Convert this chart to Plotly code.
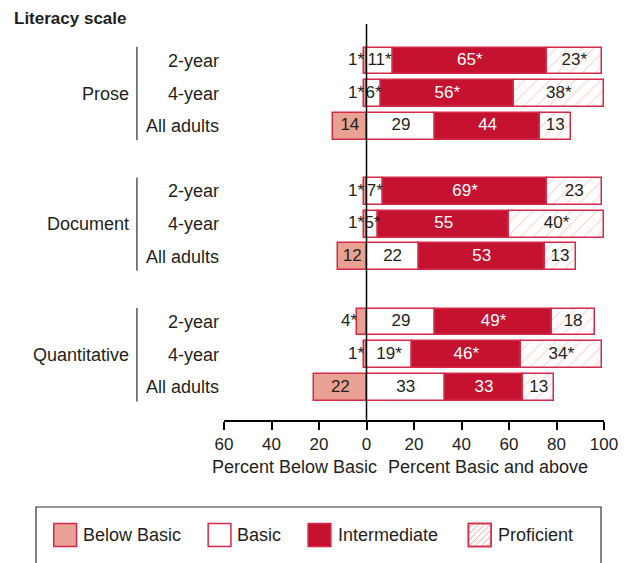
import plotly.graph_objects as go

# ---------------- data ----------------
scales = ["Prose", "Document", "Quantitative"]
groups = ["2-year", "4-year", "All adults"]
row_pos = [0, 1, 2, 4, 5, 6, 8, 9, 10]

below_basic = [1, 1, 14, 1, 1, 12, 4, 1, 22]
below_basic_lbl = ["1*", "1*", "14", "1*", "1*", "12", "4*", "1*", "22"]
basic = [11, 6, 29, 7, 5, 22, 29, 19, 33]
basic_lbl = ["11*", "6*", "29", "7*", "5*", "22", "29", "19*", "33"]
intermediate = [65, 56, 44, 69, 55, 53, 49, 46, 33]
intermediate_lbl = ["65*", "56*", "44", "69*", "55", "53", "49*", "46*", "33"]
proficient = [23, 38, 13, 23, 40, 13, 18, 34, 13]
proficient_lbl = ["23*", "38*", "13", "23", "40*", "13", "18", "34*", "13"]

tick_vals = [-60, -40, -20, 0, 20, 40, 60, 80, 100]
tick_text = ["60", "40", "20", "0", "20", "40", "60", "80", "100"]
legend_names = ["Below Basic", "Basic", "Intermediate", "Proficient"]

# ---------------- style ----------------
OFF = 8  # page body margin offset
W, H = 630 - OFF, 563 - OFF
L, R, T, B = 224 - OFF, 22, 24 - OFF, 143
PW, PH = W - L - R, H - T - B
RED = "#C41230"
EDGE = "#D42A48"
SALMON = "#E8A193"
HATCH = "#F0A395"
DARK = "#231F20"
FONT = "Liberation Sans, Arial, sans-serif"
NUMFONT = "Liberation Sans, Arial, sans-serif"


def fx(px):  # reference-window pixel -> paper
    return (px - OFF - L) / PW


def fy(py):
    return (T + PH - (py - OFF)) / PH


fig = go.Figure()
bw = 0.82
fig.add_trace(go.Bar(y=row_pos, x=[-v for v in below_basic], orientation="h", width=bw,
                     marker=dict(color=SALMON, line=dict(color=EDGE, width=1.5)), showlegend=False))
fig.add_trace(go.Bar(y=row_pos, x=basic, orientation="h", width=bw,
                     marker=dict(color="white", line=dict(color=EDGE, width=1.5)), showlegend=False))
fig.add_trace(go.Bar(y=row_pos, x=intermediate, orientation="h", width=bw,
                     marker=dict(color=RED, line=dict(color=EDGE, width=1.5)), showlegend=False))
fig.add_trace(go.Bar(y=row_pos, x=proficient, orientation="h", width=bw,
                     marker=dict(color="white", line=dict(color=EDGE, width=1.5),
                                 pattern=dict(shape="/", fgcolor=HATCH, bgcolor="white",
                                              size=9, solidity=0.12)),
                     showlegend=False))

# data labels
bb_in_x, bb_in_y, bb_in_t = [], [], []
bb_out_x, bb_out_y, bb_out_t = [], [], []
for v, t, y in zip(below_basic, below_basic_lbl, row_pos):
    if v >= 10:
        bb_in_x.append(-v / 2); bb_in_y.append(y); bb_in_t.append(t)
    else:
        bb_out_x.append(-v); bb_out_y.append(y); bb_out_t.append(t)

lblfont = dict(family=NUMFONT, size=17, color=DARK)
fig.add_trace(go.Scatter(x=bb_in_x, y=bb_in_y, text=bb_in_t, mode="text",
                         textposition="middle center", textfont=lblfont,
                         cliponaxis=False, showlegend=False, hoverinfo="skip"))
fig.add_trace(go.Scatter(x=bb_out_x, y=bb_out_y, text=bb_out_t, mode="text",
                         textposition="middle left", textfont=lblfont,
                         cliponaxis=False, showlegend=False, hoverinfo="skip"))
fig.add_trace(go.Scatter(x=[b / 2 for b in basic], y=row_pos, text=basic_lbl, mode="text",
                         textposition="middle center", textfont=lblfont,
                         cliponaxis=False, showlegend=False, hoverinfo="skip"))
fig.add_trace(go.Scatter(x=[b + i / 2 for b, i in zip(basic, intermediate)], y=row_pos,
                         text=intermediate_lbl, mode="text", textposition="middle center",
                         textfont=dict(family=NUMFONT, size=17, color="white"),
                         cliponaxis=False, showlegend=False, hoverinfo="skip"))
fig.add_trace(go.Scatter(x=[b + i + p / 2 for b, i, p in zip(basic, intermediate, proficient)],
                         y=row_pos, text=proficient_lbl, mode="text",
                         textposition="middle center", textfont=lblfont,
                         cliponaxis=False, showlegend=False, hoverinfo="skip"))

shapes = []
annotations = []
# zero line
shapes.append(dict(type="line", xref="x", yref="paper", x0=0, x1=0, y0=0, y1=1,
                   line=dict(color="black", width=1.5), layer="above"))

# row & group labels, brackets
for gi, s in enumerate(scales):
    rows = row_pos[gi * 3:gi * 3 + 3]
    for r, g in zip(rows, groups):
        annotations.append(dict(text=g, xref="paper", yref="y", x=fx(221), y=r,
                                xanchor="right", yanchor="middle", showarrow=False,
                                font=dict(family=FONT, size=18, color=DARK)))
    annotations.append(dict(text=s, xref="paper", yref="y", x=fx(130), y=rows[1],
                            xanchor="right", yanchor="middle", showarrow=False,
                            font=dict(family=FONT, size=18, color=DARK)))
    shapes.append(dict(type="line", xref="paper", yref="y", x0=fx(136), x1=fx(136),
                       y0=rows[0] - 0.43, y1=rows[-1] + 0.43,
                       line=dict(color="#555555", width=1.5)))

annotations.append(dict(text="<b>Literacy scale</b>", xref="paper", yref="paper",
                        x=fx(10), y=fy(18), xanchor="left", yanchor="middle",
                        showarrow=False, font=dict(family=FONT, size=17, color=DARK)))
annotations.append(dict(text="Percent Below Basic", xref="paper", yref="paper",
                        x=fx(295), y=fy(467), xanchor="center", yanchor="middle",
                        showarrow=False, font=dict(family=FONT, size=18, color=DARK)))
annotations.append(dict(text="Percent Basic and above", xref="paper", yref="paper",
                        x=fx(491), y=fy(467), xanchor="center", yanchor="middle",
                        showarrow=False, font=dict(family=FONT, size=18, color=DARK)))

# legend box
shapes.append(dict(type="rect", xref="paper", yref="paper", x0=fx(34), x1=fx(605),
                   y0=fy(600), y1=fy(507), line=dict(color="#333333", width=1.2),
                   fillcolor="rgba(0,0,0,0)"))
sw_x = [52, 208, 309, 471]
txt_x = [79, 235, 337, 499]
sw_fill = [SALMON, "white", RED, "white"]
sy0, sy1 = 523.5, 546.5
for name, sx, tx, fc in zip(legend_names, sw_x, txt_x, sw_fill):
    shapes.append(dict(type="rect", xref="paper", yref="paper", x0=fx(sx), x1=fx(sx + 23),
                       y0=fy(sy1), y1=fy(sy0), fillcolor=fc,
                       line=dict(color=EDGE, width=1.5)))
    annotations.append(dict(text=name, xref="paper", yref="paper", x=fx(tx), y=fy(535),
                            xanchor="left", yanchor="middle", showarrow=False,
                            font=dict(family=FONT, size=18, color=DARK)))
# hatch in Proficient swatch
hx0, hx1 = sw_x[3], sw_x[3] + 23
path = ""
k = hx0 + sy0 + 5
while k < hx1 + sy1:
    xa = max(hx0, k - sy1); ya = k - xa
    xb = min(hx1, k - sy0); yb = k - xb
    path += f"M{fx(xa)},{fy(ya)} L{fx(xb)},{fy(yb)} "
    k += 6
shapes.append(dict(type="path", xref="paper", yref="paper", path=path,
                   line=dict(color=HATCH, width=1)))
shapes.append(dict(type="rect", xref="paper", yref="paper", x0=fx(hx0), x1=fx(hx1),
                   y0=fy(sy1), y1=fy(sy0), line=dict(color=EDGE, width=1.5)))

fig.update_layout(
    width=W, height=H, barmode="relative", bargap=0,
    margin=dict(l=L, r=R, t=T, b=B, pad=0),
    plot_bgcolor="white", paper_bgcolor="white",
    xaxis=dict(range=[-60, 100], tickvals=tick_vals, ticktext=tick_text,
               showgrid=False, zeroline=False, showline=True, linecolor="black",
               linewidth=1.5, ticks="outside", ticklen=8, tickwidth=1.5, tickcolor="black",
               tickfont=dict(family=NUMFONT, size=17, color=DARK)),
    yaxis=dict(range=[11, -1.13], visible=False, showgrid=False, zeroline=False),
    shapes=shapes, annotations=annotations,
)

fig.write_html("out.html")
